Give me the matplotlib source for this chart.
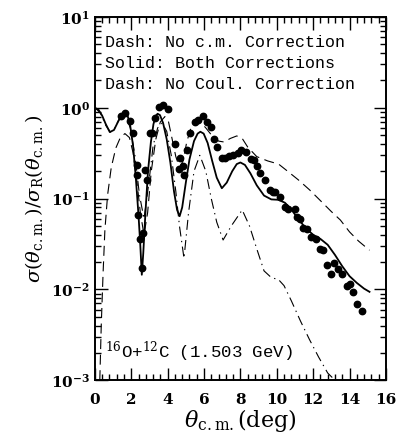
import matplotlib
matplotlib.use("Agg")
import matplotlib.pyplot as plt
from matplotlib.ticker import MultipleLocator, FixedLocator, NullFormatter, FixedFormatter
import numpy as np

plt.rcParams['mathtext.fontset'] = 'dejavuserif'

# solid: both corrections
solid_x = [0.0, 0.2, 0.4, 0.6, 0.82, 1.05, 1.3, 1.5, 1.65, 1.8, 1.95, 2.1, 2.25, 2.4, 2.5, 2.58, 2.66, 2.78, 2.92, 3.08, 3.22, 3.35, 3.45, 3.58, 3.75, 3.95, 4.15, 4.35, 4.52, 4.66, 4.8, 5.0, 5.2, 5.45, 5.65, 5.8, 5.98, 6.2, 6.45, 6.7, 6.98, 7.25, 7.55, 7.8, 8.0, 8.25, 8.55, 8.9, 9.3, 9.7, 10.1, 10.45, 10.8, 11.2, 11.6, 12.0, 12.4, 12.8, 13.2, 13.6, 14.0, 14.4, 14.8, 15.1]
solid_y = [1.0, 0.95, 0.82, 0.66, 0.54, 0.57, 0.72, 0.84, 0.87, 0.82, 0.62, 0.38, 0.17, 0.065, 0.03, 0.0145, 0.025, 0.07, 0.2, 0.42, 0.66, 0.82, 0.86, 0.83, 0.68, 0.45, 0.25, 0.12, 0.075, 0.064, 0.08, 0.15, 0.27, 0.43, 0.52, 0.545, 0.52, 0.41, 0.26, 0.17, 0.13, 0.15, 0.2, 0.24, 0.25, 0.235, 0.19, 0.14, 0.108, 0.098, 0.097, 0.09, 0.076, 0.059, 0.047, 0.04, 0.036, 0.031, 0.024, 0.018, 0.014, 0.0118, 0.0102, 0.0094]

# long dash: no c.m. correction
cm_x = [0.27, 0.35, 0.45, 0.55, 0.7, 0.9, 1.15, 1.4, 1.65, 1.9, 2.1, 2.3, 2.5, 2.7, 2.9, 3.1, 3.35, 3.6, 3.85, 4.05, 4.25, 4.45, 4.65, 4.85, 5.05, 5.3, 5.55, 5.8, 6.1, 6.45, 6.8, 7.1, 7.45, 7.8, 8.1, 8.4, 8.9, 9.5, 10.1, 10.6, 11.2, 11.8, 12.4, 13.0, 13.5, 14.0, 14.5, 15.1]
cm_y = [0.001, 0.004, 0.015, 0.045, 0.11, 0.22, 0.36, 0.47, 0.52, 0.47, 0.32, 0.16, 0.07, 0.04, 0.07, 0.2, 0.45, 0.7, 0.8, 0.7, 0.45, 0.29, 0.22, 0.26, 0.42, 0.62, 0.73, 0.7, 0.6, 0.49, 0.43, 0.42, 0.46, 0.49, 0.46, 0.37, 0.29, 0.26, 0.24, 0.2, 0.16, 0.125, 0.095, 0.072, 0.058, 0.043, 0.034, 0.027]

# dash-dot: no Coulomb correction
coul_x = [0.0, 0.3, 0.6, 0.85, 1.1, 1.4, 1.65, 1.95, 2.2, 2.45, 2.7, 2.95, 3.2, 3.45, 3.7, 3.95, 4.2, 4.45, 4.65, 4.9, 5.15, 5.45, 5.77, 6.1, 6.4, 6.7, 7.05, 7.5, 8.1, 8.5, 8.9, 9.3, 9.7, 10.1, 10.4, 10.8, 11.3, 11.8, 12.3, 12.8, 13.2]
coul_y = [1.0, 0.88, 0.64, 0.54, 0.6, 0.8, 0.85, 0.6, 0.3, 0.11, 0.06, 0.14, 0.38, 0.6, 0.68, 0.55, 0.3, 0.12, 0.05, 0.022, 0.07, 0.2, 0.3, 0.2, 0.1, 0.055, 0.035, 0.05, 0.075, 0.05, 0.028, 0.016, 0.0135, 0.0128, 0.011, 0.0075, 0.0045, 0.0028, 0.0018, 0.0012, 0.001]

# data points
data_x = [1.41, 1.65, 1.92, 2.1, 2.29, 2.3, 2.38, 2.47, 2.6, 2.66, 2.75, 2.84, 3.02, 3.12, 3.3, 3.53, 3.75, 4.03, 4.4, 4.63, 4.67, 4.85, 4.89, 5.04, 5.22, 5.5, 5.66, 5.92, 6.14, 6.36, 6.54, 6.72, 6.97, 7.15, 7.38, 7.6, 7.88, 8.06, 8.3, 8.56, 8.74, 8.92, 9.1, 9.36, 9.62, 9.78, 9.9, 10.17, 10.45, 10.63, 11.0, 11.09, 11.27, 11.45, 11.67, 11.91, 12.15, 12.37, 12.52, 12.74, 12.96, 13.14, 13.38, 13.56, 13.84, 14.02, 14.2, 14.42, 14.66]
data_logy = [-0.09, -0.055, -0.143, -0.28, -0.74, -0.63, -1.18, -1.45, -1.76, -1.38, -0.69, -0.8, -0.28, -0.28, -0.117, 0.01, 0.03, -0.018, -0.4, -0.675, -0.55, -0.64, -0.74, -0.47, -0.28, -0.16, -0.135, -0.09, -0.154, -0.21, -0.34, -0.43, -0.55, -0.55, -0.53, -0.52, -0.5, -0.47, -0.485, -0.56, -0.58, -0.64, -0.72, -0.8, -0.91, -0.93, -0.925, -0.98, -1.09, -1.12, -1.12, -1.2, -1.22, -1.32, -1.34, -1.42, -1.45, -1.55, -1.57, -1.73, -1.83, -1.71, -1.78, -1.83, -1.96, -1.94, -2.03, -2.16, -2.24]

legend_lines = ["Dash: No c.m. Correction", "Solid: Both Corrections", "Dash: No Coul. Correction"]

fig = plt.figure(figsize=(3.97, 4.36), dpi=100)
ax = fig.add_axes([0.239, 0.128, 0.733, 0.833])

ax.plot(solid_x, solid_y, color='black', lw=1.3)
ax.plot(cm_x, cm_y, color='black', lw=0.8, dashes=(9, 5))
ax.plot(coul_x, coul_y, color='black', lw=0.8, dashes=(9, 4, 1.2, 4))
ax.plot(data_x, np.power(10.0, data_logy), 'o', color='black', ms=4.6, mec='black')

ax.set_yscale('log')
ax.set_xlim(0, 16)
ax.set_ylim(1e-3, 10)

ax.xaxis.set_major_locator(MultipleLocator(2))
ax.xaxis.set_minor_locator(MultipleLocator(0.4))
ax.yaxis.set_major_locator(FixedLocator([1e-3, 1e-2, 1e-1, 1, 10]))
ax.yaxis.set_major_formatter(FixedFormatter([r'$\mathbf{10^{-3}}$', r'$\mathbf{10^{-2}}$', r'$\mathbf{10^{-1}}$', r'$\mathbf{10^{0}}$', r'$\mathbf{10^{1}}$']))
minors = [m * 10.0 ** e for e in range(-3, 1) for m in range(2, 10)]
ax.yaxis.set_minor_locator(FixedLocator(minors))
ax.yaxis.set_minor_formatter(NullFormatter())

ax.tick_params(which='both', direction='in', top=True, right=True, width=1.0)
ax.tick_params(which='major', length=9, labelsize=11)
ax.tick_params(which='minor', length=4.5)
ax.tick_params(axis='x', which='major', pad=9)
for lab in ax.get_xticklabels():
    lab.set_fontfamily('DejaVu Serif')
    lab.set_fontweight('bold')
for s in ax.spines.values():
    s.set_linewidth(1.4)

for i, t in enumerate(legend_lines):
    ax.text(0.035, 0.93 - i * 0.058, t, transform=ax.transAxes, fontsize=12,
            family='Liberation Mono', va='center', ha='left')

ax.text(0.035, 0.045, r'$^{16}$O+$^{12}$C (1.503 GeV)', transform=ax.transAxes,
        fontsize=12.5, family='Liberation Mono', va='bottom', ha='left')

ax.set_xlabel(r'$\theta_{\rm c.m.}$(deg)', fontsize=16, family='DejaVu Serif', labelpad=0)
ax.set_ylabel(r'$\sigma(\theta_{\rm c.m.})/\sigma_{\rm R}(\theta_{\rm c.m.})$', fontsize=14, labelpad=4)

fig.savefig('out.png', dpi=100)
